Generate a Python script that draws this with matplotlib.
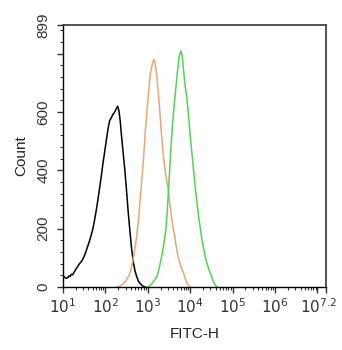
import numpy as np
import matplotlib.pyplot as plt
import matplotlib.transforms as mtransforms
from matplotlib.ticker import FixedLocator, LogLocator, NullFormatter, MultipleLocator

plt.rcParams['font.family'] = ['Liberation Sans', 'DejaVu Sans']

# histogram traces: log10(FITC-H) vs count
black_log = [1.00, 1.03, 1.06, 1.09, 1.12, 1.14, 1.17, 1.20, 1.23, 1.26, 1.30, 1.34, 1.38,
             1.42, 1.46, 1.50, 1.54, 1.58, 1.62, 1.66, 1.70, 1.74, 1.78, 1.82, 1.86, 1.90,
             1.94, 1.98, 2.02, 2.06, 2.10, 2.14, 2.18, 2.22, 2.26, 2.29, 2.32, 2.35, 2.38,
             2.42, 2.46, 2.50, 2.54, 2.58, 2.62, 2.66, 2.70, 2.74, 2.78, 2.82, 2.86, 2.90, 2.94]
black_cnt = [38, 35, 31, 30, 33, 38, 36, 44, 42, 50, 60, 68, 78,
             85, 93, 105, 120, 138, 155, 175, 196, 225, 258, 295, 335, 375,
             420, 460, 500, 540, 570, 580, 592, 600, 612, 620, 605, 570, 520,
             460, 400, 330, 255, 190, 130, 85, 55, 35, 20, 12, 6, 2, 0]

orange_log = [2.28, 2.35, 2.42, 2.50, 2.56, 2.62, 2.66, 2.70, 2.74, 2.78, 2.82, 2.86, 2.90,
              2.94, 2.98, 3.02, 3.06, 3.10, 3.14, 3.17, 3.20, 3.24, 3.28, 3.32, 3.36, 3.40,
              3.44, 3.48, 3.52, 3.56, 3.60, 3.64, 3.68, 3.72, 3.76, 3.80, 3.84, 3.88, 3.92,
              3.96, 4.00]
orange_cnt = [0, 3, 10, 25, 40, 70, 100, 135, 175, 230, 300, 370, 440,
              530, 600, 670, 730, 760, 780, 770, 740, 680, 610, 530, 460, 410,
              370, 335, 285, 240, 200, 170, 130, 100, 80, 62, 50, 30, 15,
              5, 0]

green_log = [3.00, 3.06, 3.10, 3.14, 3.18, 3.22, 3.26, 3.30, 3.34, 3.38, 3.42, 3.46, 3.50,
             3.54, 3.58, 3.62, 3.66, 3.70, 3.74, 3.78, 3.81, 3.84, 3.88, 3.92, 3.96, 4.00,
             4.04, 4.08, 4.12, 4.16, 4.20, 4.24, 4.28, 4.32, 4.36, 4.40, 4.44, 4.48, 4.52,
             4.56, 4.60, 4.63]
green_cnt = [0, 5, 12, 20, 28, 38, 60, 85, 115, 150, 190, 260, 360,
             460, 550, 620, 680, 740, 790, 810, 795, 750, 690, 650, 590, 520,
             460, 400, 340, 290, 240, 200, 160, 130, 100, 80, 60, 45, 30,
             15, 5, 0]

x_ticks_log = [1, 2, 3, 4, 5, 6, 7, 7.2]
x_tick_labels = ['$10^1$', '$10^2$', '$10^3$', '$10^4$', '$10^5$', '$10^6$', '', '$10^{7.2}$']
y_ticks = [0, 200, 400, 600, 800, 899]
y_tick_labels = ['0', '200', '400', '600', '', '899']

fig = plt.figure(figsize=(3.42, 3.5), dpi=100)
ax = fig.add_axes([0.184, 0.18, 0.769, 0.749])

ax.plot(10 ** np.array(black_log), black_cnt, color='black', lw=1.1)
ax.plot(10 ** np.array(orange_log), orange_cnt, color='#e9a674', lw=1.1)
ax.plot(10 ** np.array(green_log), green_cnt, color='#52d452', lw=1.1)

ax.set_xscale('log')
ax.set_xlim(10, 10 ** 7.2)
ax.set_ylim(0, 899)
ax.xaxis.set_major_locator(FixedLocator([10 ** v for v in x_ticks_log]))
ax.set_xticklabels(x_tick_labels)
ax.xaxis.set_minor_locator(LogLocator(base=10, subs=np.arange(2, 10), numticks=20))
ax.xaxis.set_minor_formatter(NullFormatter())
ax.set_yticks(y_ticks)
ax.set_yticklabels(y_tick_labels, rotation=90, va='center')
ax.yaxis.set_minor_locator(MultipleLocator(40))

ax.tick_params(which='major', length=4, width=1, colors='#333333', labelsize=11, direction='out')
ax.tick_params(which='minor', length=2, width=0.8, color='#333333', direction='out')
ax.tick_params(axis='y', pad=5)

# pull the last x label in so it stays inside the figure
last = ax.get_xticklabels()[-1]
last.set_transform(last.get_transform() + mtransforms.ScaledTranslation(-8 / 100, 0, fig.dpi_scale_trans))

for s in ['left', 'bottom']:
    ax.spines[s].set_color('black')
    ax.spines[s].set_linewidth(1.0)
for s in ['top', 'right']:
    ax.spines[s].set_color('#444444')
    ax.spines[s].set_linewidth(1.3)

ax.set_xlabel('FITC-H', fontsize=11, color='#222222', labelpad=8)
ax.set_ylabel('Count', fontsize=11, color='#222222', labelpad=6)

fig.savefig('out.png', dpi=100)
